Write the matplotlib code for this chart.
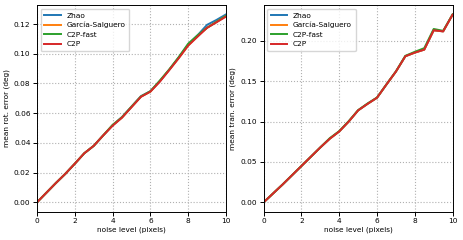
import matplotlib
matplotlib.use("Agg")
import matplotlib.pyplot as plt
import numpy as np

noise = np.arange(0, 10.5, 0.5)

rot_zhao = [0.0, 0.0065, 0.013, 0.0192, 0.026, 0.033, 0.038, 0.045, 0.052, 0.0575, 0.0645, 0.0715,
            0.0748, 0.0815, 0.0893, 0.0975, 0.1062, 0.1125, 0.1195, 0.1228, 0.1265]
rot_garcia = [0.0, 0.0065, 0.013, 0.0192, 0.026, 0.033, 0.038, 0.045, 0.052, 0.0572, 0.0643, 0.0712,
              0.0745, 0.0815, 0.0893, 0.0972, 0.1055, 0.112, 0.1175, 0.1215, 0.1255]
rot_c2p_fast = [0.0, 0.0065, 0.013, 0.0192, 0.026, 0.033, 0.038, 0.045, 0.052, 0.0572, 0.0643, 0.0712,
                0.0748, 0.082, 0.0895, 0.0978, 0.1068, 0.1125, 0.1175, 0.1215, 0.1255]
rot_c2p = [0.0, 0.0065, 0.013, 0.0192, 0.026, 0.033, 0.038, 0.045, 0.0515, 0.057, 0.064, 0.071,
           0.0745, 0.0812, 0.089, 0.097, 0.1055, 0.1115, 0.1175, 0.1212, 0.125]

tran_zhao = [0.0, 0.011, 0.022, 0.0335, 0.045, 0.0565, 0.068, 0.0788, 0.0878, 0.1, 0.1139, 0.122,
             0.1296, 0.146, 0.162, 0.181, 0.1855, 0.1892, 0.2132, 0.2118, 0.2325]
tran_garcia = list(tran_zhao)
tran_c2p_fast = [0.0, 0.011, 0.022, 0.0335, 0.045, 0.0565, 0.068, 0.0795, 0.0882, 0.1005, 0.1142, 0.1225,
                 0.1298, 0.1462, 0.1622, 0.1815, 0.1865, 0.191, 0.2148, 0.2125, 0.2328]
tran_c2p = list(tran_zhao)

labels = ["Zhao", "García-Salguero", "C2P-fast", "C2P"]
colors = ["#1f77b4", "#ff7f0e", "#2ca02c", "#d62728"]

fig = plt.figure(figsize=(4.63, 2.4), dpi=100)
ax1 = fig.add_axes([0.080, 0.118, 0.408, 0.861])
ax2 = fig.add_axes([0.5695, 0.118, 0.408, 0.861])

for ax, series, ylab, yticks in (
    (ax1, [rot_zhao, rot_garcia, rot_c2p_fast, rot_c2p], "mean rot. error (deg)",
     np.arange(0, 0.121, 0.02)),
    (ax2, [tran_zhao, tran_garcia, tran_c2p_fast, tran_c2p], "mean tran. error (deg)",
     np.arange(0, 0.21, 0.05)),
):
    for ys, lab, c in zip(series, labels, colors):
        ax.plot(noise, ys, color=c, label=lab, lw=1.4)
    ax.set_xlim(0, 10)
    ax.set_xticks([0, 2, 4, 6, 8, 10])
    ax.set_yticks(yticks)
    ax.grid(True, linestyle=":", color="#b0b0b0", lw=0.8)
    ax.tick_params(labelsize=5.3, length=2.7, width=0.7, pad=2)
    for s in ax.spines.values():
        s.set_linewidth(0.7)
    ax.set_xlabel("noise level (pixels)", fontsize=5.3, labelpad=2)
    ax.set_ylabel(ylab, fontsize=5.3, labelpad=3)
    ax.legend(loc="upper left", fontsize=5.3, handlelength=2.2, borderpad=0.5, labelspacing=0.45)

ax1.yaxis.set_major_formatter(matplotlib.ticker.FormatStrFormatter("%.2f"))
ax2.yaxis.set_major_formatter(matplotlib.ticker.FormatStrFormatter("%.2f"))

fig.savefig("out.png", dpi=100)
